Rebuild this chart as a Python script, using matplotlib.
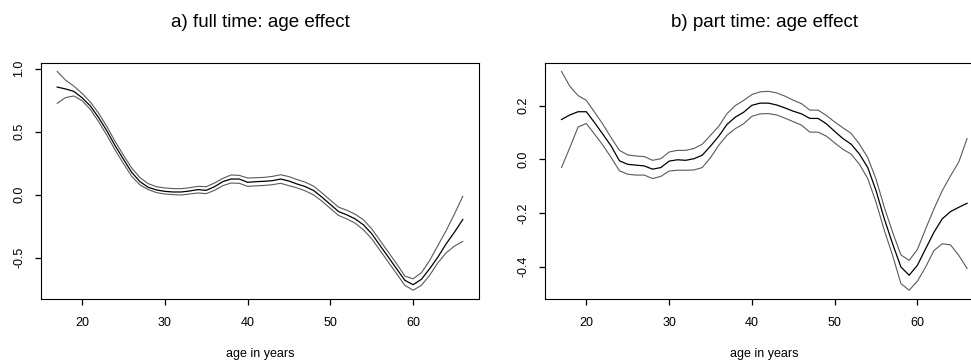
import matplotlib
matplotlib.use("Agg")
import matplotlib.pyplot as plt
from matplotlib.ticker import FormatStrFormatter
import numpy as np

plt.rcParams['font.family'] = ['Liberation Sans', 'DejaVu Sans']
plt.rcParams.update({
    'xtick.labelsize': 9, 'ytick.labelsize': 9,
    'xtick.major.size': 4.0, 'ytick.major.size': 4.0,
    'xtick.major.width': 0.9, 'ytick.major.width': 0.9,
    'xtick.major.pad': 9.0, 'ytick.major.pad': 7.4,
    'xtick.direction': 'out', 'ytick.direction': 'out',
    'xtick.color': 'black', 'ytick.color': 'black',
    'axes.linewidth': 0.8,
})

ages = list(range(17, 67))

full_center = [0.855, 0.840, 0.821, 0.770, 0.705, 0.612, 0.507, 0.388, 0.282, 0.177,
               0.103, 0.058, 0.037, 0.026, 0.021, 0.021, 0.029, 0.040, 0.034, 0.063,
               0.103, 0.124, 0.124, 0.098, 0.103, 0.106, 0.111, 0.124, 0.108, 0.084,
               0.063, 0.032, -0.021, -0.078, -0.135, -0.161, -0.193, -0.240, -0.311, -0.404,
               -0.496, -0.589, -0.681, -0.716, -0.673, -0.589, -0.496, -0.390, -0.298, -0.198]
full_upper = [0.979, 0.910, 0.863, 0.805, 0.736, 0.647, 0.541, 0.422, 0.314, 0.211,
              0.135, 0.087, 0.063, 0.053, 0.048, 0.047, 0.055, 0.066, 0.063, 0.092,
              0.129, 0.156, 0.153, 0.132, 0.134, 0.137, 0.145, 0.158, 0.143, 0.119,
              0.098, 0.066, 0.013, -0.044, -0.100, -0.124, -0.156, -0.200, -0.272, -0.364,
              -0.457, -0.549, -0.647, -0.669, -0.621, -0.523, -0.404, -0.285, -0.153, -0.013]
full_lower = [0.726, 0.771, 0.784, 0.747, 0.678, 0.580, 0.472, 0.354, 0.248, 0.145,
              0.077, 0.040, 0.016, 0.005, 0.000, -0.003, 0.005, 0.013, 0.008, 0.034,
              0.071, 0.092, 0.090, 0.066, 0.070, 0.073, 0.079, 0.090, 0.071, 0.053,
              0.029, -0.003, -0.053, -0.110, -0.166, -0.193, -0.227, -0.280, -0.351, -0.443,
              -0.536, -0.628, -0.721, -0.760, -0.721, -0.641, -0.541, -0.462, -0.409, -0.372]

part_center = [0.148, 0.165, 0.177, 0.177, 0.136, 0.093, 0.049, -0.006, -0.019, -0.022,
               -0.025, -0.037, -0.031, -0.007, -0.002, -0.004, 0.002, 0.015, 0.049, 0.086,
               0.130, 0.157, 0.175, 0.201, 0.209, 0.209, 0.202, 0.191, 0.179, 0.169,
               0.152, 0.152, 0.132, 0.104, 0.077, 0.056, 0.019, -0.031, -0.117, -0.222,
               -0.315, -0.401, -0.432, -0.395, -0.333, -0.272, -0.222, -0.195, -0.179, -0.164]
part_upper = [0.327, 0.272, 0.237, 0.219, 0.175, 0.130, 0.080, 0.033, 0.016, 0.012,
              0.010, -0.004, 0.002, 0.027, 0.033, 0.033, 0.040, 0.056, 0.089, 0.123,
              0.170, 0.200, 0.219, 0.241, 0.251, 0.253, 0.247, 0.235, 0.220, 0.207,
              0.183, 0.183, 0.163, 0.139, 0.117, 0.096, 0.056, 0.006, -0.074, -0.179,
              -0.272, -0.356, -0.377, -0.336, -0.259, -0.185, -0.117, -0.062, -0.010, 0.077]
part_lower = [-0.031, 0.043, 0.120, 0.133, 0.093, 0.052, 0.006, -0.043, -0.056, -0.059,
              -0.059, -0.072, -0.064, -0.044, -0.041, -0.041, -0.040, -0.031, 0.006, 0.052,
              0.090, 0.114, 0.132, 0.160, 0.169, 0.170, 0.165, 0.153, 0.140, 0.127,
              0.101, 0.101, 0.086, 0.061, 0.037, 0.019, -0.019, -0.072, -0.160, -0.265,
              -0.358, -0.463, -0.488, -0.454, -0.401, -0.340, -0.315, -0.319, -0.358, -0.407]

titles = ["a) full time: age effect", "b) part time: age effect"]
xlabel = "age in years"
xticks = [20, 30, 40, 50, 60]
yticks_full = [-0.5, 0.0, 0.5, 1.0]
yticks_part = [-0.4, -0.2, 0.0, 0.2]

W, H = 971, 361
fig = plt.figure(figsize=(W / 100, H / 100), dpi=100)

def make_axes(left_px, center, upper, lower, title, yticks):
    ax = fig.add_axes([left_px / W, (H - 299) / H, 438 / W, 236.3 / H])
    ax.plot(ages, upper, color='#5a5a5a', lw=0.8)
    ax.plot(ages, lower, color='#5a5a5a', lw=0.8)
    ax.plot(ages, center, color='black', lw=0.9)
    ax.margins(x=0.04, y=0.04)
    ax.set_xticks(xticks)
    ax.set_yticks(yticks)
    ax.yaxis.set_major_formatter(FormatStrFormatter('%.1f'))
    plt.setp(ax.get_yticklabels(), rotation=90, va='center')
    ax.set_xlabel(xlabel, fontsize=9, labelpad=14.0)
    ax.set_title(title, fontsize=13.5, pad=26)
    return ax

make_axes(41, full_center, full_upper, full_lower, titles[0], yticks_full)
make_axes(545.3, part_center, part_upper, part_lower, titles[1], yticks_part)

fig.savefig("out.png", dpi=100)
